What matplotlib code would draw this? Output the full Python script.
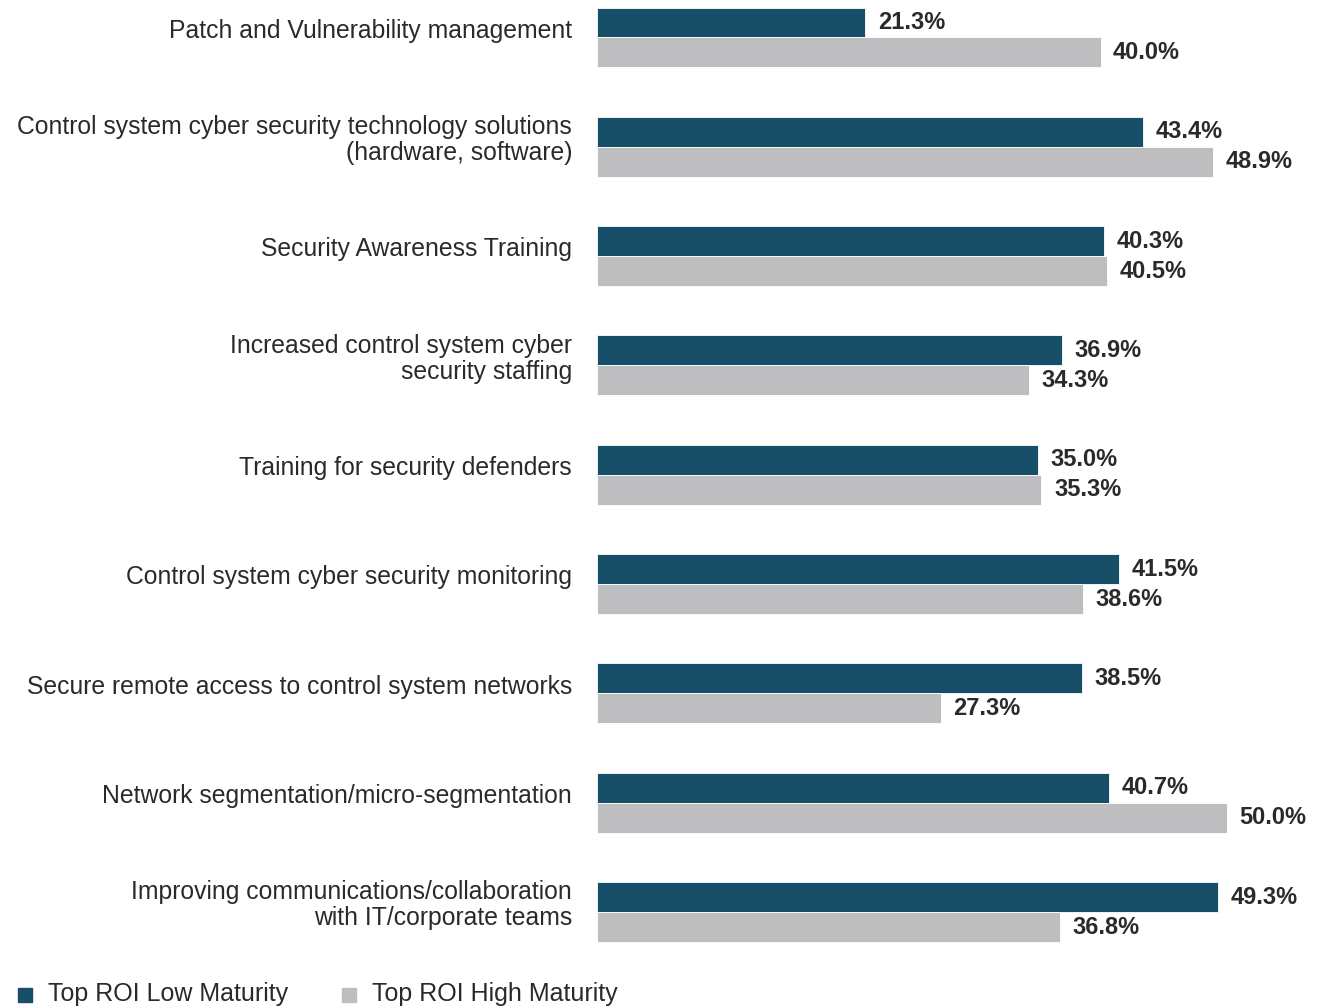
import matplotlib.pyplot as plt
from matplotlib.patches import Rectangle

categories = [
    "Patch and Vulnerability management",
    "Control system cyber security technology solutions\n(hardware, software)",
    "Security Awareness Training",
    "Increased control system cyber\nsecurity staffing",
    "Training for security defenders",
    "Control system cyber security monitoring",
    "Secure remote access to control system networks",
    "Network segmentation/micro-segmentation",
    "Improving communications/collaboration\nwith IT/corporate teams",
]
low_maturity = [21.3, 43.4, 40.3, 36.9, 35.0, 41.5, 38.5, 40.7, 49.3]
high_maturity = [40.0, 48.9, 40.5, 34.3, 35.3, 38.6, 27.3, 50.0, 36.8]
series_names = ["Top ROI Low Maturity", "Top ROI High Maturity"]

dark = "#174f69"
gray = "#bebec0"
text_color = "#2a2a2a"

plt.rcParams['font.family'] = ['Liberation Sans', 'DejaVu Sans']

W, H = 1331, 1007
fig = plt.figure(figsize=(W / 100, H / 100), dpi=100)
ax = fig.add_axes([597 / W, 47 / H, 1 - 597 / W, 960 / H])

h = 0.274
ys = list(range(len(categories)))
y_low = [y - h / 2 for y in ys]
y_high = [y + h / 2 for y in ys]

ax.barh(y_low, low_maturity, height=h, color=dark, edgecolor="white", linewidth=0.6)
ax.barh(y_high, high_maturity, height=h, color=gray, edgecolor="white", linewidth=0.6)

for y, v in zip(y_low, low_maturity):
    ax.annotate(f"{v:.1f}%", (v, y), xytext=(9, 0), textcoords="offset points",
                va="center", ha="left", fontsize=17, fontweight="bold", color=text_color)
for y, v in zip(y_high, high_maturity):
    ax.annotate(f"{v:.1f}%", (v, y), xytext=(9, 0), textcoords="offset points",
                va="center", ha="left", fontsize=17, fontweight="bold", color=text_color)

for y, label in zip(y_low, categories):
    ax.annotate(label, (0, y), xytext=(-18, -6), textcoords="offset points",
                va="center", ha="right", fontsize=17.8, color=text_color,
                linespacing=1.1, annotation_clip=False)

ax.set_xlim(0, 58.3)
ax.set_ylim(8 + 48 / 109.4, -37.5 / 109.4)
ax.axis("off")

# legend drawn by hand at the bottom left
for x0, color, name in [(18, dark, series_names[0]), (342, gray, series_names[1])]:
    fig.add_artist(Rectangle((x0 / W, (H - 1002) / H), 14 / W, 14 / H,
                             transform=fig.transFigure, color=color))
    fig.text((x0 + 30) / W, (H - 994) / H, name, fontsize=18, color=text_color,
             va="center", ha="left")

fig.savefig("out.png", dpi=100)
